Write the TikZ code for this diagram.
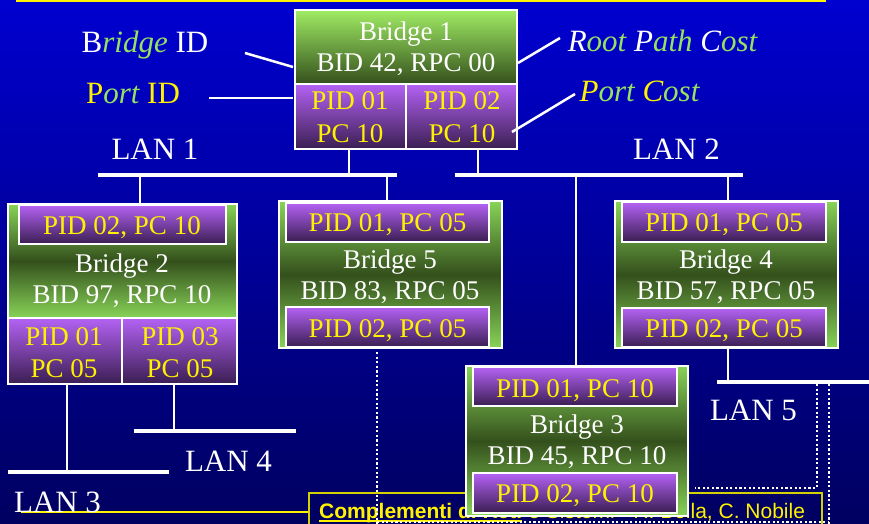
\documentclass[tikz,border=0pt]{standalone}
\usepackage{fontspec}
\setmainfont{Liberation Serif}
\newfontfamily\footfont{Liberation Sans}
\usetikzlibrary{calc}

\definecolor{bgtop}{RGB}{0,0,208}
\definecolor{bgbot}{RGB}{0,0,96}
\definecolor{glight}{RGB}{160,236,100}
\definecolor{gdark}{RGB}{52,80,28}
\definecolor{gedge}{RGB}{136,212,88}
\definecolor{ptop}{RGB}{180,98,244}
\definecolor{pbot}{RGB}{58,30,82}
\definecolor{lblgreen}{RGB}{150,226,96}
\definecolor{footframe}{RGB}{210,210,0}

% rectangle node given by its corners (x1,y1) and (x2,y2)
\newcommand\mkbox[6]{%
  \pgfmathsetmacro\mkboxw{#5-#3}\pgfmathsetmacro\mkboxh{#6-#4}%
  \node[#2, minimum width=\mkboxw pt, minimum height=\mkboxh pt]
    (#1) at ({(#3+#5)/2},{(#4+#6)/2}) {};}

\tikzset{
  box/.style={draw=white, line width=2pt, inner sep=0pt, outer sep=0pt},
  rootbox/.style={box, top color=glight, bottom color=gdark},
  brbox/.style={box, top color=gedge, bottom color=gedge, middle color=gdark},
  portbox/.style={box, top color=ptop, bottom color=pbot},
  btext/.style={anchor=base, text=white, inner sep=0pt,
                font=\fontsize{27}{27}\selectfont},
  ptext/.style={btext, text=yellow},
  lantext/.style={anchor=base, text=white, inner sep=0pt,
                  font=\fontsize{31}{31}\selectfont},
  lbl/.style={anchor=base, text=white, inner sep=0pt,
              font=\fontsize{31}{31}\selectfont},
  wire/.style={white, line width=2.5pt},
  bar/.style={white, line width=4.5pt},
  dots/.style={white, line width=2.5pt, dash pattern=on 2.2pt off 2.4pt},
  foottext/.style={anchor=base west, text=yellow, inner sep=0pt,
                   font=\footfont\fontsize{21}{21}\selectfont},
}

\begin{document}
\begin{tikzpicture}[x=1pt,y=-1pt]
\useasboundingbox (0,0) rectangle (869,524);
\clip (0,0) rectangle (869,524);
\shade[top color=bgtop, bottom color=bgbot] (0,0) rectangle (869,524);

% edge of the title band
\draw[yellow, line width=2.5pt] (16,1) -- (826,1);

% footer
\draw[yellow, line width=1.5pt] (21,512) -- (309,512);
\draw[footframe, line width=1.5pt] (309,530) |- (822,493) -- (822,530);
\node[foottext] (ft1) at (319,518) {\bfseries Complementi di Reti};
\node[foottext] (ft2) at (ft1.base east) {\ e Sistemi - R. Bolla, C. Nobile};
\draw[yellow, line width=2.5pt] ($(ft1.base west)+(0,3)$) -- ($(ft1.base east)+(0,3)$);

% LAN segments
\coordinate (lan1a) at (98,175);  \coordinate (lan1b) at (397,175);
\coordinate (lan2a) at (455,175); \coordinate (lan2b) at (743,175);
\coordinate (lan3a) at (8,472);   \coordinate (lan3b) at (169,472);
\coordinate (lan4a) at (134,431); \coordinate (lan4b) at (296,431);
\coordinate (lan5a) at (717,382); \coordinate (lan5b) at (869,382);
\foreach \n in {1,...,5} \draw[bar] (lan\n a) -- (lan\n b);

% bridges
\mkbox{b1}{rootbox}{295}{10}{517}{84}
\mkbox{b1p1}{portbox}{295}{84}{406}{149}
\mkbox{b1p2}{portbox}{406}{84}{517}{149}

\mkbox{b2}{brbox}{8}{204}{237}{318}
\mkbox{b2pa}{portbox}{19}{205}{226}{244}
\mkbox{b2p1}{portbox}{8}{318}{122}{384}
\mkbox{b2p3}{portbox}{122}{318}{237}{384}

\mkbox{b5}{brbox}{279}{201}{502}{348}
\mkbox{b5p1}{portbox}{286}{203}{489}{242}
\mkbox{b5p2}{portbox}{286}{307}{489}{347}

\mkbox{b4}{brbox}{615}{201}{838}{348}
\mkbox{b4p1}{portbox}{622}{202}{826}{242}
\mkbox{b4p2}{portbox}{622}{308}{826}{347}

% wires from ports to LANs
\coordinate (w1) at (349,175); \draw[wire] (b1p1.south -| w1) -- (w1);
\coordinate (w2) at (478,175); \draw[wire] (b1p2.south -| w2) -- (w2);
\coordinate (w3) at (140,175); \draw[wire] (w3) -- (w3 |- b2.north);
\coordinate (w4) at (387,175); \draw[wire] (w4) -- (w4 |- b5.north);
\coordinate (w5) at (576,175);
\coordinate (w6) at (728,175); \draw[wire] (w6) -- (w6 |- b4.north);
\coordinate (w7) at (728,382); \draw[wire] (b4.south -| w7) -- (w7);
\coordinate (w8) at (67,472);  \draw[wire] (b2p1.south -| w8) -- (w8);
\coordinate (w9) at (174,431); \draw[wire] (b2p3.south -| w9) -- (w9);

% dotted paths
\coordinate (d1) at (377,524);
\draw[dots] ($(b5.south -| d1)+(0,4)$) -- (d1);
\coordinate (d2) at (817,384); \coordinate (d3) at (695,488);
\draw[dots] (d2) |- (d3);
\coordinate (d4) at (829,384); \coordinate (d5) at (829,524);
\draw[dots] (d4) -- (d5);
\coordinate (d6) at (377,522);
\draw[dots] (d6) -- (d6 -| d4);

% bridge 3 sits over the footer
\mkbox{b3}{brbox}{466}{366}{688}{516}
\mkbox{b3p1}{portbox}{473}{367}{677}{406}
\mkbox{b3p2}{portbox}{473}{473}{677}{513}
\draw[wire] (w5) -- (w5 |- b3.north);

% bridge texts
\node[btext] (t1a) at (406,41) {Bridge 1};
\node[btext] (t1b) at (406,72) {BID 42, RPC 00};
\node[ptext] (t1c) at (350,110) {PID 01};
\node[ptext] (t1d) at (350,142) {PC 10};
\node[ptext] (t1e) at (462,110) {PID 02};
\node[ptext] (t1f) at (462,142) {PC 10};

\node[ptext] (t2a) at (122,234) {PID 02, PC 10};
\node[btext] (t2b) at (122,272) {Bridge 2};
\node[btext] (t2c) at (122,303) {BID 97, RPC 10};
\node[ptext] (t2d) at (64,345) {PID 01};
\node[ptext] (t2e) at (64,377) {PC 05};
\node[ptext] (t2f) at (180,345) {PID 03};
\node[ptext] (t2g) at (180,377) {PC 05};

\node[ptext] (t5a) at (387.5,231) {PID 01, PC 05};
\node[btext] (t5b) at (390,268) {Bridge 5};
\node[btext] (t5c) at (390,299) {BID 83, RPC 05};
\node[ptext] (t5d) at (387.5,337) {PID 02, PC 05};

\node[ptext] (t4a) at (724,231) {PID 01, PC 05};
\node[btext] (t4b) at (726,268) {Bridge 4};
\node[btext] (t4c) at (726,299) {BID 57, RPC 05};
\node[ptext] (t4d) at (724,337) {PID 02, PC 05};

\node[ptext] (t3a) at (575,397) {PID 01, PC 10};
\node[btext] (t3b) at (577,433) {Bridge 3};
\node[btext] (t3c) at (577,464) {BID 45, RPC 10};
\node[ptext] (t3d) at (575,502) {PID 02, PC 10};

% LAN names
\node[lantext] (n1) at (155,159) {LAN 1};
\node[lantext] (n2) at (676.5,159) {LAN 2};
\node[lantext] (n3) at (57.5,512) {LAN 3};
\node[lantext] (n4) at (228.5,471) {LAN 4};
\node[lantext] (n5) at (753.5,420) {LAN 5};

% field legends
\node[lbl] (lbid) at (145,53) {B\textcolor{lblgreen}{\itshape ridge} ID};
\node[lbl, text=yellow] (lpid) at (133,103) {P\textcolor{lblgreen}{\itshape ort} ID};
\node[lbl, font=\fontsize{31}{31}\selectfont\itshape] (lrpc) at (662.5,52)
  {R\textcolor{lblgreen}{oot} P\textcolor{lblgreen}{ath} C\textcolor{lblgreen}{ost}};
\node[lbl, text=yellow, font=\fontsize{31}{31}\selectfont\itshape] (lpc) at (639.5,102)
  {P\textcolor{lblgreen}{ort} C\textcolor{lblgreen}{ost}};

\coordinate (s1) at (245,53);  \coordinate (e1) at (293,67);  \draw[wire] (s1) -- (e1);
\coordinate (s2) at (209,98);  \coordinate (e2) at (293,98);  \draw[wire] (s2) -- (e2);
\coordinate (e3) at (518,63);  \coordinate (s3) at (560,38);  \draw[wire] (e3) -- (s3);
\coordinate (e4) at (512,132); \coordinate (s4) at (575,94);  \draw[wire] (e4) -- (s4);
\end{tikzpicture}
\end{document}
